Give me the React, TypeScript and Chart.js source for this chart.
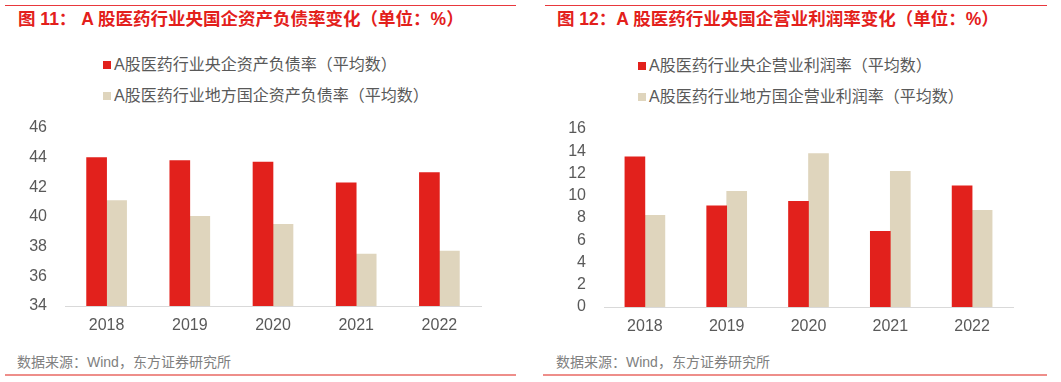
import React, { useEffect, useRef } from "react";
import { Chart, registerables } from "chart.js";

Chart.register(...registerables);

const years = ["2018", "2019", "2020", "2021", "2022"];

const debtCentral = [44.0, 43.8, 43.7, 42.3, 43.0];
const debtLocal = [41.1, 40.05, 39.5, 37.5, 37.7];
const debtTicks = [34, 46, 2];

const profitCentral = [13.5, 9.1, 9.5, 6.8, 10.9];
const profitLocal = [8.25, 10.4, 13.8, 12.2, 8.7];
const profitTicks = [0, 16, 2];

const RED = "#E2211C";
const BEIGE = "#DFD5BD";
const GRAY = "#595959";
const FONT = "'Liberation Sans', 'Noto Sans CJK SC', sans-serif";

type BarProps = {
  left: number;
  top: number;
  width: number;
  height: number;
  padLeft: number;
  padTop: number;
  padRight: number;
  xAxisHeight: number;
  yAxisWidth: number;
  labels: string[];
  a: number[];
  b: number[];
  aLabel: string;
  bLabel: string;
  ticks: number[];
};

function BarChart(p: BarProps) {
  const ref = useRef<HTMLCanvasElement | null>(null);
  useEffect(() => {
    if (!ref.current) return;
    const chart = new Chart(ref.current, {
      type: "bar",
      data: {
        labels: p.labels,
        datasets: [
          { label: p.aLabel, data: p.a, backgroundColor: RED, barThickness: 20 },
          { label: p.bLabel, data: p.b, backgroundColor: BEIGE, barThickness: 20 },
        ],
      },
      options: {
        animation: false,
        responsive: false,
        maintainAspectRatio: false,
        layout: { padding: { left: p.padLeft, top: p.padTop, right: p.padRight, bottom: 0 } },
        plugins: { legend: { display: false }, tooltip: { enabled: false }, title: { display: false } },
        scales: {
          x: {
            grid: { display: false, drawTicks: false },
            border: { display: true, color: "#D9D9D9", width: 1 },
            ticks: { color: GRAY, font: { family: FONT, size: 16 }, padding: 10 },
            afterFit: (s: any) => {
              s.height = p.xAxisHeight;
            },
          },
          y: {
            min: p.ticks[0],
            max: p.ticks[1],
            grid: { display: false, drawTicks: false },
            border: { display: false },
            ticks: {
              stepSize: p.ticks[2],
              autoSkip: false,
              color: GRAY,
              font: { family: FONT, size: 16 },
              padding: 18,
            },
            afterFit: (s: any) => {
              s.width = p.yAxisWidth;
              s.paddingTop = 0;
              s.paddingBottom = 0;
            },
          },
        },
      },
    });
    return () => chart.destroy();
  }, []);
  return (
    <canvas
      ref={ref}
      width={p.width}
      height={p.height}
      style={{ position: "absolute", left: p.left, top: p.top, width: p.width, height: p.height }}
    />
  );
}

const abs = (s: React.CSSProperties): React.CSSProperties => ({ position: "absolute", ...s });

function Legend({ x, y, color, text }: { x: number; y: number; color: string; text: string }) {
  return (
    <div style={abs({ left: x, top: y - 10, height: 20, display: "flex", alignItems: "center", whiteSpace: "nowrap" })}>
      <span style={{ display: "inline-block", width: 8, height: 8, background: color, marginRight: 3 }} />
      <span style={{ fontFamily: FONT, fontSize: 16, color: GRAY, lineHeight: "20px" }}>{text}</span>
    </div>
  );
}

export default function App() {
  const titleStyle: React.CSSProperties = {
    fontFamily: FONT,
    fontSize: 17.5,
    fontWeight: "bold",
    color: "#E3201B",
    lineHeight: "20px",
    whiteSpace: "nowrap",
  };
  const srcStyle: React.CSSProperties = {
    fontFamily: FONT,
    fontSize: 14,
    color: "#808080",
    lineHeight: "18px",
    whiteSpace: "nowrap",
  };
  return (
    <div style={abs({ left: 0, top: 0, width: 1061, height: 382, background: "#fff", overflow: "hidden" })}>
      {/* left panel */}
      <div style={abs({ left: 5, top: 5, width: 511, height: 1, background: "#E8383D" })} />
      <div style={abs({ left: 18, top: 9, ...titleStyle })}>图 11： A 股医药行业央国企资产负债率变化（单位：%）</div>
      <Legend x={103} y={65} color={RED} text="A股医药行业央企资产负债率（平均数）" />
      <Legend x={103} y={96} color={BEIGE} text="A股医药行业地方国企资产负债率（平均数）" />
      <BarChart
        left={0}
        top={110}
        width={500}
        height={232}
        padLeft={0}
        padTop={18}
        padRight={19}
        xAxisHeight={36}
        yAxisWidth={65}
        labels={years}
        a={debtCentral}
        b={debtLocal}
        aLabel="A股医药行业央企资产负债率（平均数）"
        bLabel="A股医药行业地方国企资产负债率（平均数）"
        ticks={debtTicks}
      />
      <div style={abs({ left: 17, top: 353, ...srcStyle })}>数据来源：Wind，东方证券研究所</div>
      <div style={abs({ left: 5, top: 374, width: 511, height: 2, background: "#EE8E8A" })} />

      {/* right panel */}
      <div style={abs({ left: 545, top: 5, width: 502, height: 1, background: "#E8383D" })} />
      <div style={abs({ left: 557, top: 9, ...titleStyle })}>图 12：A 股医药行业央国企营业利润率变化（单位：%）</div>
      <Legend x={638} y={66} color={RED} text="A股医药行业央企营业利润率（平均数）" />
      <Legend x={638} y={97} color={BEIGE} text="A股医药行业地方国企营业利润率（平均数）" />
      <BarChart
        left={530}
        top={110}
        width={500}
        height={233}
        padLeft={0}
        padTop={19}
        padRight={17}
        xAxisHeight={36}
        yAxisWidth={74}
        labels={years}
        a={profitCentral}
        b={profitLocal}
        aLabel="A股医药行业央企营业利润率（平均数）"
        bLabel="A股医药行业地方国企营业利润率（平均数）"
        ticks={profitTicks}
      />
      <div style={abs({ left: 556, top: 353, ...srcStyle })}>数据来源：Wind，东方证券研究所</div>
      <div style={abs({ left: 543, top: 374, width: 504, height: 2, background: "#EE8E8A" })} />
    </div>
  );
}
